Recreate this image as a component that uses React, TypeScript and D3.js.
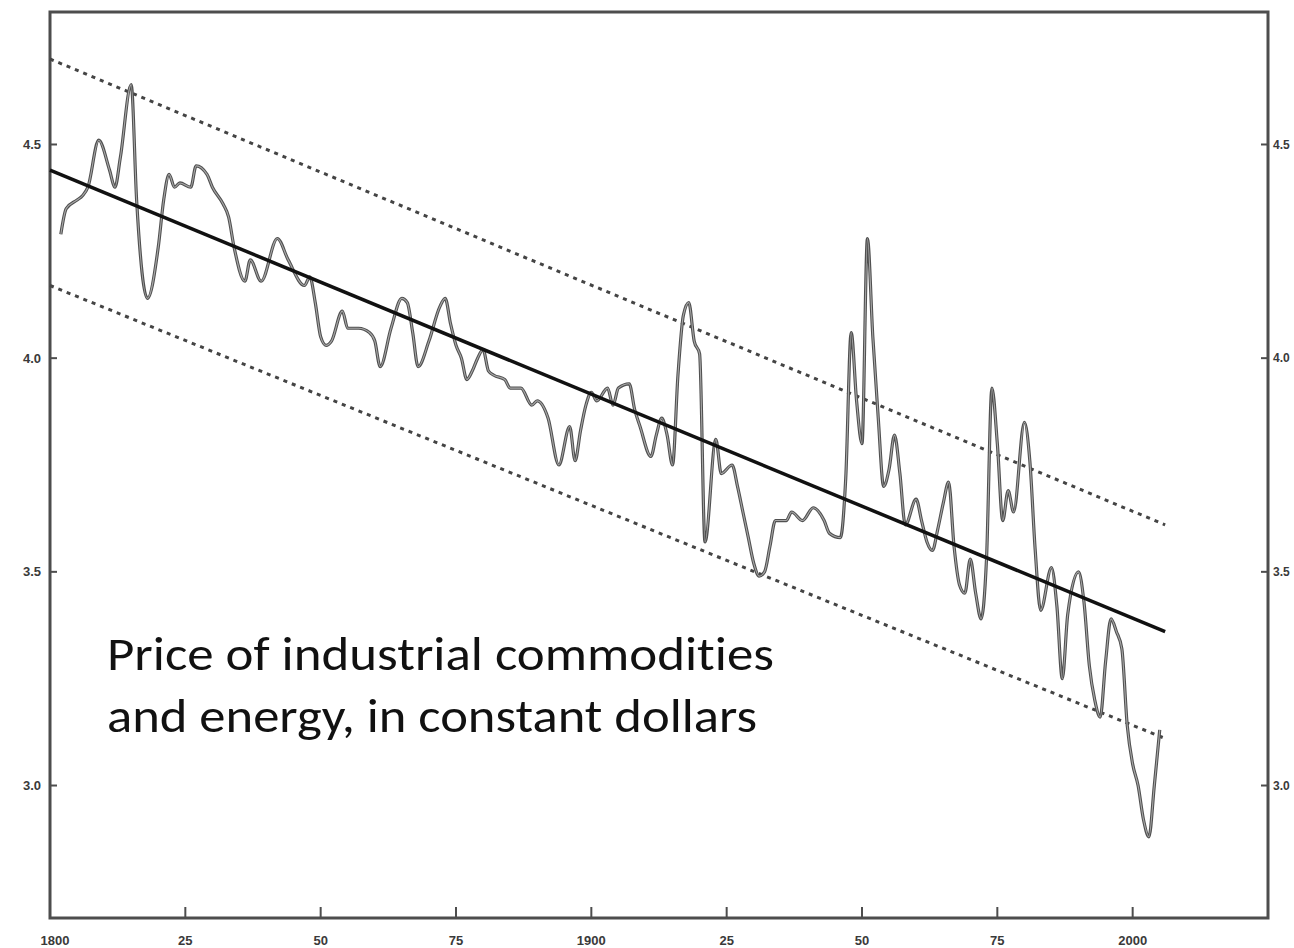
import React from "react";
import * as d3 from "d3";

// annual price index (log, constant dollars)
const years = [
  1802, 1803, 1805, 1806, 1807, 1809, 1811, 1812, 1813, 1815, 1816, 1818, 1820, 1821, 1822, 1823, 1824,
  1826, 1827, 1829, 1830, 1832, 1833, 1834, 1836, 1837, 1839, 1842, 1844, 1847, 1848, 1849, 1850, 1851,
  1852, 1854, 1855, 1857, 1859, 1860, 1861, 1863, 1865, 1866, 1867, 1868, 1870, 1872, 1873, 1874, 1875,
  1876, 1877, 1878, 1879, 1880, 1881, 1882, 1884, 1885, 1887, 1889, 1890, 1892, 1894, 1896, 1897, 1898,
  1899, 1900, 1901, 1903, 1904, 1905, 1907, 1908, 1909, 1911, 1912, 1913, 1914, 1915, 1916, 1917, 1918,
  1919, 1920, 1921, 1923, 1924, 1926, 1927, 1928, 1929, 1930, 1931, 1932, 1933, 1934, 1936, 1937, 1939,
  1941, 1943, 1944, 1946, 1947, 1948, 1949, 1950, 1951, 1952, 1953, 1954, 1955, 1956, 1957, 1958, 1960,
  1961, 1962, 1963, 1964, 1965, 1966, 1967, 1968, 1969, 1970, 1971, 1972, 1973, 1974, 1975, 1976, 1977,
  1978, 1980, 1981, 1982, 1983, 1985, 1986, 1987, 1988, 1990, 1991, 1992, 1993, 1994, 1995, 1996, 1997,
  1998, 1999, 2000, 2001, 2002, 2003, 2004, 2005,
];
const prices = [
  4.29, 4.35, 4.37, 4.38, 4.4, 4.51, 4.44, 4.4, 4.47, 4.64, 4.37, 4.14, 4.26, 4.37, 4.43, 4.4, 4.41,
  4.4, 4.45, 4.43, 4.4, 4.36, 4.33, 4.26, 4.18, 4.23, 4.18, 4.28, 4.23, 4.17, 4.19, 4.13, 4.05, 4.03,
  4.04, 4.11, 4.07, 4.07, 4.06, 4.04, 3.98, 4.07, 4.14, 4.13, 4.06, 3.98, 4.04, 4.12, 4.14, 4.08, 4.03,
  4.0, 3.95, 3.97, 4.0, 4.02, 3.97, 3.96, 3.95, 3.93, 3.93, 3.89, 3.9, 3.86, 3.75, 3.84, 3.76, 3.83,
  3.89, 3.92, 3.9, 3.93, 3.89, 3.93, 3.94, 3.88, 3.84, 3.77, 3.82, 3.86, 3.82, 3.75, 3.96, 4.1, 4.13,
  4.04, 4.01, 3.57, 3.81, 3.73, 3.75, 3.7, 3.64, 3.58, 3.52, 3.49, 3.5, 3.56, 3.62, 3.62, 3.64, 3.62,
  3.65, 3.62, 3.59, 3.58, 3.72, 4.06, 3.9, 3.8, 4.28, 4.05, 3.86, 3.7, 3.74, 3.82, 3.73, 3.61, 3.67,
  3.62, 3.57, 3.55, 3.6, 3.66, 3.71, 3.56, 3.47, 3.45, 3.53, 3.45, 3.39, 3.53, 3.93, 3.8, 3.62, 3.69,
  3.64, 3.85, 3.76, 3.55, 3.41, 3.51, 3.42, 3.25, 3.4, 3.5, 3.43, 3.28, 3.2, 3.16, 3.29, 3.39, 3.36,
  3.32, 3.14, 3.05, 3.0, 2.92, 2.88, 3.0, 3.13,
];

// fitted trend and band, start / end
const trendYears = [1800, 2006];
const trendValues = [4.44, 3.36];
const upperValues = [4.7, 3.61];
const lowerValues = [4.17, 3.11];

const yTicks = [3.0, 3.5, 4.0, 4.5];
const xTicks = [1800, 1825, 1850, 1875, 1900, 1925, 1950, 1975, 2000];
const xTickLabels = ["1800", "25", "50", "75", "1900", "25", "50", "75", "2000"];

const W = 1294;
const H = 948;
const frame = { left: 50, right: 1268, top: 12, bottom: 918 };

export default function App() {
  const x = d3.scaleLinear().domain([1800, 2025]).range([frame.left, frame.right]);
  const y = d3.scaleLinear().domain([2.69, 4.81]).range([frame.bottom, frame.top]);

  const series = years.map((yr, i) => [yr, prices[i]] as [number, number]);
  const priceLine = d3
    .line<[number, number]>()
    .x((d) => x(d[0]))
    .y((d) => y(d[1]))
    .curve(d3.curveMonotoneX);

  const straight = (vals: number[]) =>
    d3
      .line<number>()
      .x((_, i) => x(trendYears[i]))
      .y((d) => y(d))(vals) || "";

  const pricePath = priceLine(series) || "";
  const frameColor = "#4d4d4d";
  const tickFont = "'Liberation Sans', Arial, sans-serif";

  return (
    <svg
      width={W}
      height={H}
      style={{ position: "absolute", left: 0, top: 0, background: "#fff" }}
    >
      {/* frame */}
      <rect
        x={frame.left}
        y={frame.top}
        width={frame.right - frame.left}
        height={frame.bottom - frame.top}
        fill="none"
        stroke={frameColor}
        strokeWidth={3}
      />

      {/* y ticks, both sides */}
      {yTicks.map((t) => (
        <g key={t}>
          <line x1={frame.left} x2={frame.left + 7} y1={y(t)} y2={y(t)} stroke={frameColor} strokeWidth={2} />
          <line x1={frame.right - 7} x2={frame.right} y1={y(t)} y2={y(t)} stroke={frameColor} strokeWidth={2} />
          <text
            x={frame.left - 9}
            y={y(t)}
            dy="0.35em"
            textAnchor="end"
            fontFamily={tickFont}
            fontWeight="bold"
            fontSize={13}
            fill="#3a3a3a"
          >
            {t.toFixed(1)}
          </text>
          <text
            x={frame.right + 5}
            y={y(t)}
            dy="0.35em"
            fontFamily={tickFont}
            fontWeight="bold"
            fontSize={12}
            fill="#3a3a3a"
          >
            {t.toFixed(1)}
          </text>
        </g>
      ))}

      {/* x ticks */}
      {xTicks.map((t, i) => (
        <g key={t}>
          <line x1={x(t)} x2={x(t)} y1={frame.bottom} y2={frame.bottom - 11} stroke={frameColor} strokeWidth={2} />
          <text
            x={x(t) + (i === 0 ? 5 : 0)}
            y={frame.bottom + 27}
            textAnchor="middle"
            fontFamily={tickFont}
            fontWeight="bold"
            fontSize={13}
            fill="#3a3a3a"
          >
            {xTickLabels[i]}
          </text>
        </g>
      ))}

      {/* band */}
      <path d={straight(upperValues)} fill="none" stroke="#444" strokeWidth={3} strokeDasharray="4,5" />
      <path d={straight(lowerValues)} fill="none" stroke="#444" strokeWidth={3} strokeDasharray="4,5" />

      {/* price series: dark edge + light core, like the scan */}
      <path d={pricePath} fill="none" stroke="#505050" strokeWidth={3.2} strokeLinejoin="round" />
      <path d={pricePath} fill="none" stroke="#a8a8a8" strokeWidth={1.1} strokeLinejoin="round" />

      {/* trend */}
      <path d={straight(trendValues)} fill="none" stroke="#111" strokeWidth={3.5} />

      {/* annotation */}
      <text
        fontFamily="Carlito, Lato, 'Open Sans', sans-serif"
        fontSize={47}
        fill="#111"
        style={{ fontVariantLigatures: "none" }}
      >
        <tspan x={107} y={670} textLength={667} lengthAdjust="spacingAndGlyphs">
          Price of industrial commodities
        </tspan>
        <tspan x={107} y={732} textLength={650} lengthAdjust="spacingAndGlyphs">
          and energy, in constant dollars
        </tspan>
      </text>
    </svg>
  );
}
